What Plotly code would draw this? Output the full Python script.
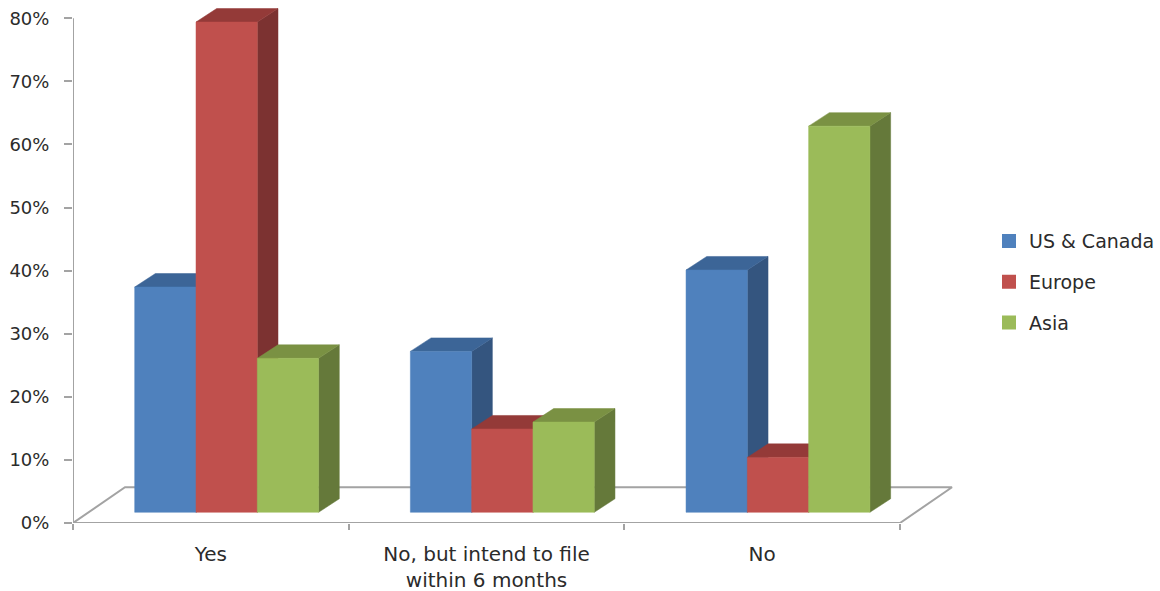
import plotly.graph_objects as go

categories = ["Yes", "No, but intend to file<br>within 6 months", "No"]
series_names = ["US & Canada", "Europe", "Asia"]
us_canada = [37.4, 27.2, 40.1]
europe = [79.4, 14.9, 10.4]
asia = [26.1, 16.0, 62.9]
y_ticks = [0, 10, 20, 30, 40, 50, 60, 70, 80]
y_labels = ["0%", "10%", "20%", "30%", "40%", "50%", "60%", "70%", "80%"]

front_colors = ["#4F81BD", "#C0504D", "#9BBB59"]
side_colors = ["#34557F", "#7C3231", "#65793A"]
top_colors = ["#3C6597", "#943A38", "#7A9143"]

PX_X = 275.67
PX_Y = 6.305
bar_w = 61.3 / PX_X
bar_start = 61.7 / PX_X
depth_x = 20.7 / PX_X
depth_y = 13.5 / PX_Y
floor_base = 10.7 / PX_Y
floor_x = 52 / PX_X
floor_y = 35.7 / PX_Y
AXIS = "#A3A3A3"
TEXT = "#2B2B2B"
FONT = "DejaVu Sans"

fig = go.Figure()


def line(xs, ys):
    fig.add_trace(go.Scatter(x=xs, y=ys, mode="lines", line=dict(color=AXIS, width=2),
                             showlegend=False, hoverinfo="skip", cliponaxis=False))


n = len(categories)
line([0, floor_x, n + floor_x, n, 0], [0, floor_y, floor_y, 0, 0])
line([0, 0], [0, y_ticks[-1]])


def poly(xs, ys, color):
    fig.add_trace(go.Scatter(x=xs, y=ys, mode="lines", fill="toself", fillcolor=color,
                             line=dict(color=color, width=0.5), showlegend=False,
                             hoverinfo="skip"))


for c in range(n):
    for s, values in enumerate([us_canada, europe, asia]):
        x0 = c + bar_start + s * bar_w
        x1 = x0 + bar_w
        top = values[c]
        base = floor_base
        poly([x1, x1 + depth_x, x1 + depth_x, x1, x1],
             [base, base + depth_y, top + depth_y, top, base], side_colors[s])
        poly([x0, x0 + depth_x, x1 + depth_x, x1, x0],
             [top, top + depth_y, top + depth_y, top, top], top_colors[s])
        poly([x0, x1, x1, x0, x0], [base, base, top, top, base], front_colors[s])

for s, name in enumerate(series_names):
    fig.add_trace(go.Scatter(x=[None], y=[None], mode="markers", name=name,
                             legendgroup=name,
                             marker=dict(symbol="square", size=14, color=front_colors[s])))

fig.update_layout(
    width=1160, height=591,
    margin=dict(l=73, r=0, t=5, b=68.3),
    paper_bgcolor="white", plot_bgcolor="white",
    font=dict(family=FONT, size=18, color=TEXT),
    legend=dict(x=0.8427, y=0.465, xanchor="left", yanchor="middle",
                tracegroupgap=13, font=dict(size=19, color=TEXT), itemwidth=30),
    xaxis=dict(range=[0, 3.9431], automargin=False, showgrid=False, zeroline=False,
               showline=False, tickmode="array", tickvals=[0.5, 1.5, 2.5],
               ticktext=categories, ticks="", ticklabelstandoff=17, tickfont=dict(size=20),
               minor=dict(tickmode="array", tickvals=[0, 1, 2, 3], ticks="outside",
                          ticklen=6, tickwidth=2, tickcolor=AXIS, showgrid=False)),
    yaxis=dict(range=[0, 82.1], automargin=False, showgrid=False, zeroline=False,
               showline=False, tickmode="array", tickvals=y_ticks, ticktext=y_labels,
               ticks="outside", ticklen=8, tickwidth=2, tickcolor=AXIS,
               ticklabelstandoff=11, tickfont=dict(size=18)),
)

fig.write_html("out.html", post_script="document.body.style.margin='0';",
               config=dict(displayModeBar=False))
